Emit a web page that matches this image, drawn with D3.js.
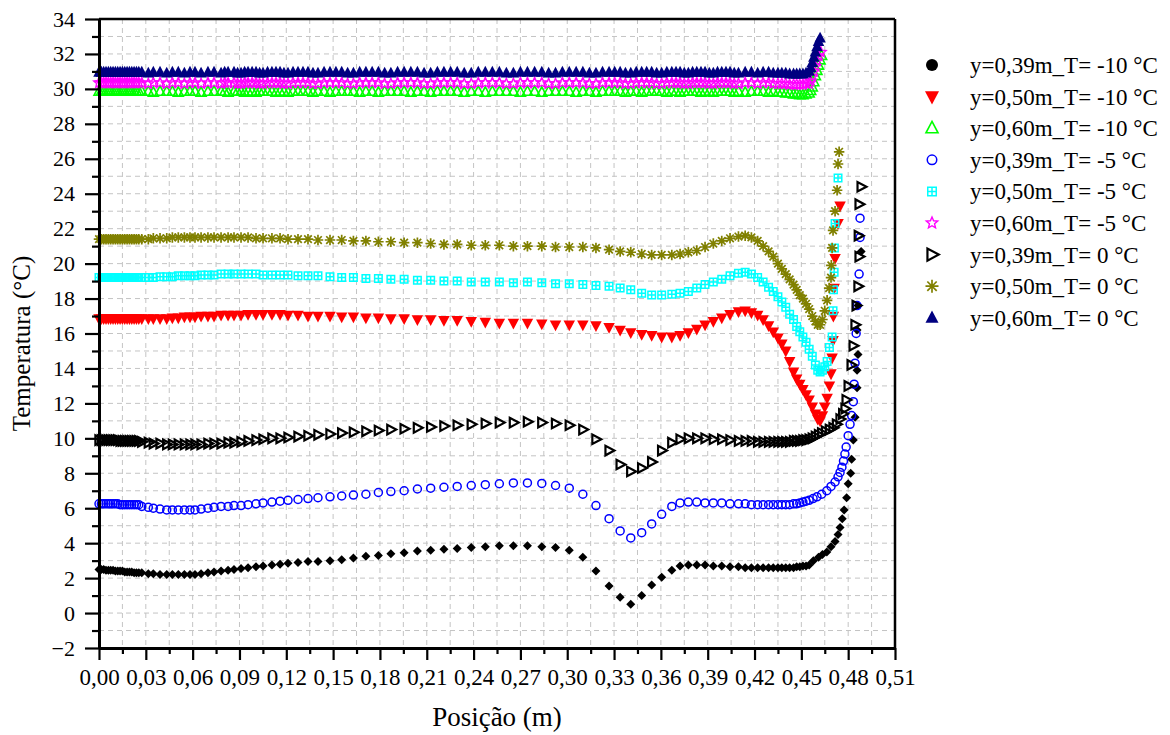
<!DOCTYPE html>
<html>
<head>
<meta charset="utf-8">
<script src="https://cdn.jsdelivr.net/npm/d3@7"></script>
<style>
  html, body { margin: 0; padding: 0; background: #ffffff; }
  svg, svg text { font-family: "Liberation Serif", "Times New Roman", Tinos, "DejaVu Serif", serif !important; }
</style>
</head>
<body>
<script>
// Temperature profiles along the position (m) for three heights y and three outside temperatures T.

// Shared mesh positions (m) for the main part of every profile
const positionM = [
  0, 0.0015, 0.003, 0.0045, 0.006, 0.0075, 0.009, 0.0105, 0.012, 0.0135, 0.015, 0.0165, 0.018, 0.0195, 0.021, 0.0225, 0.024, 0.0255,
  0.0274, 0.0316, 0.0348, 0.0391, 0.0434, 0.047, 0.0508, 0.0547, 0.0583, 0.0615, 0.0654, 0.0698, 0.0737, 0.0782, 0.0827, 0.0865, 0.091, 0.0955, 0.1006, 0.1051, 0.1108, 0.116, 0.1211, 0.1275, 0.1339, 0.1403, 0.148,
  0.1555, 0.163, 0.171, 0.179, 0.187, 0.1955, 0.204, 0.2125, 0.221, 0.2295, 0.2385, 0.2475, 0.2565, 0.2655, 0.2745, 0.2837, 0.2925, 0.3013, 0.31, 0.3184, 0.3268,
  0.3339, 0.3407, 0.3477, 0.3541, 0.3605, 0.367, 0.3723, 0.3776, 0.383, 0.3883, 0.3936, 0.399, 0.4043, 0.4097, 0.414, 0.418, 0.422, 0.4255, 0.429, 0.432, 0.435, 0.4375, 0.44, 0.4425, 0.445, 0.447, 0.449, 0.451, 0.453
];

// Extra positions (m) recorded only for the three y = 0,60 m profiles
const positionTop = [
  0.0805, 0.0888, 0.0933, 0.0981, 0.1029, 0.108, 0.1134, 0.1185, 0.1243, 0.1307, 0.1371, 0.1442, 0.1518,
  0.1593, 0.167, 0.175, 0.183, 0.1913, 0.1998, 0.2083, 0.2168, 0.2253, 0.234, 0.243, 0.252, 0.261, 0.27, 0.2791, 0.2881, 0.2969, 0.3057, 0.3142, 0.3226,
  0.3304, 0.3373, 0.3442, 0.3509, 0.3573, 0.3638, 0.3697, 0.375, 0.3803, 0.3857, 0.391, 0.3963, 0.4017, 0.407
];
const t60m10Top = [29.85, 29.85, 29.8, 29.85, 29.85, 29.85, 29.8, 29.85, 29.85, 29.85, 29.8, 29.85, 29.85, 29.85, 29.8, 29.85, 29.85, 29.85, 29.8, 29.85, 29.85, 29.85, 29.8, 29.85, 29.85, 29.85, 29.8, 29.85, 29.85, 29.85, 29.8, 29.85, 29.85, 29.85, 29.8, 29.85, 29.85, 29.85, 29.8, 29.85, 29.85, 29.85, 29.8, 29.85, 29.85, 29.85, 29.8];
const t60m5Top = [30.35, 30.3, 30.35, 30.35, 30.3, 30.35, 30.35, 30.3, 30.35, 30.35, 30.3, 30.35, 30.35, 30.3, 30.35, 30.35, 30.3, 30.35, 30.35, 30.3, 30.35, 30.35, 30.3, 30.35, 30.35, 30.3, 30.35, 30.35, 30.3, 30.35, 30.35, 30.3, 30.35, 30.35, 30.3, 30.35, 30.35, 30.3, 30.35, 30.35, 30.3, 30.35, 30.35, 30.3, 30.35, 30.35, 30.3];
const t60p0Top = [30.95, 30.9, 30.95, 30.95, 30.9, 30.95, 30.95, 30.9, 30.95, 30.95, 30.9, 30.95, 30.95, 30.9, 30.95, 30.95, 30.9, 30.95, 30.95, 30.9, 30.95, 30.95, 30.9, 30.95, 30.95, 30.9, 30.95, 30.95, 30.9, 30.95, 30.95, 30.9, 30.95, 30.95, 30.9, 30.95, 30.95, 30.9, 30.95, 30.95, 30.9, 30.95, 30.95, 30.9, 30.95, 30.95, 30.9];

// y = 0,39 m, T = -10 °C
const t39m10 = [
  2.5, 2.5, 2.5, 2.45, 2.45, 2.45, 2.45, 2.4, 2.4, 2.4, 2.4, 2.35, 2.35, 2.35, 2.35, 2.3, 2.3, 2.3,
  2.3, 2.25, 2.25, 2.2, 2.2, 2.2, 2.2, 2.2, 2.2, 2.2, 2.25, 2.3, 2.35, 2.4, 2.45, 2.5, 2.55, 2.6, 2.65, 2.7, 2.75, 2.8, 2.85, 2.9, 2.95, 2.95, 3.0,
  3.05, 3.15, 3.25, 3.3, 3.4, 3.45, 3.55, 3.6, 3.65, 3.7, 3.75, 3.8, 3.85, 3.85, 3.85, 3.8, 3.75, 3.6, 3.2, 2.4, 1.55,
  0.9, 0.5, 1.0, 1.6, 2.05, 2.45, 2.7, 2.75, 2.75, 2.75, 2.7, 2.7, 2.65, 2.65, 2.6, 2.6, 2.6, 2.6, 2.6, 2.6, 2.6, 2.6, 2.6, 2.6, 2.6, 2.65, 2.65, 2.7, 2.7
];
const t39m10Wall = [[0.455, 2.75], [0.4577, 3.0], [0.461, 3.2], [0.4635, 3.35], [0.4663, 3.5], [0.469, 3.8], [0.4716, 4.1], [0.4735, 4.5], [0.4748, 4.9], [0.4762, 5.4], [0.4774, 5.9], [0.479, 6.6], [0.48, 7.4], [0.4816, 8.0], [0.4822, 8.8], [0.4833, 9.9], [0.4844, 11.2], [0.4857, 12.9], [0.4857, 13.9], [0.4863, 14.8], [0.4857, 16.2], [0.4863, 17.6], [0.4883, 20.7]];

// y = 0,50 m, T = -10 °C
const t50m10 = [
  16.85, 16.85, 16.85, 16.85, 16.85, 16.85, 16.85, 16.85, 16.85, 16.85, 16.85, 16.85, 16.85, 16.85, 16.85, 16.85, 16.85, 16.85,
  16.85, 16.85, 16.85, 16.85, 16.85, 16.9, 16.9, 16.95, 16.95, 16.95, 17.0, 17.0, 17.0, 17.05, 17.05, 17.05, 17.05, 17.1, 17.1, 17.1, 17.1, 17.1, 17.05, 17.05, 17.0, 17.0, 17.0,
  16.95, 16.95, 16.9, 16.9, 16.85, 16.85, 16.8, 16.8, 16.75, 16.75, 16.7, 16.65, 16.6, 16.6, 16.6, 16.55, 16.5, 16.5, 16.5, 16.45, 16.35,
  16.2, 16.05, 15.95, 15.9, 15.8, 15.8, 15.9, 16.05, 16.25, 16.5, 16.7, 16.9, 17.1, 17.25, 17.3, 17.2, 17.05, 16.8, 16.45, 16.1, 15.75, 15.4, 15.0, 14.4, 13.8, 13.4, 13.1, 12.8, 12.5
];
const t50m10Wall = [[0.455, 12.2], [0.457, 11.8], [0.459, 11.4], [0.4605, 11.1], [0.462, 11.0], [0.4635, 11.3], [0.465, 11.8], [0.4665, 12.3], [0.468, 13.0], [0.469, 13.7], [0.4697, 14.6], [0.4703, 15.6], [0.4705, 17.0], [0.471, 18.6], [0.4716, 20.3], [0.4735, 22.3], [0.4748, 23.3]];

// y = 0,60 m, T = -10 °C
const t60m10 = [
  29.85, 29.85, 29.85, 29.85, 29.85, 29.85, 29.85, 29.85, 29.85, 29.85, 29.85, 29.85, 29.85, 29.85, 29.85, 29.85, 29.85, 29.85,
  29.85, 29.85, 29.8, 29.85, 29.85, 29.85, 29.8, 29.85, 29.85, 29.85, 29.8, 29.85, 29.85, 29.85, 29.8, 29.85, 29.85, 29.85, 29.8, 29.85, 29.85, 29.85, 29.8, 29.85, 29.85, 29.85, 29.8,
  29.85, 29.85, 29.85, 29.8, 29.85, 29.85, 29.85, 29.8, 29.85, 29.85, 29.85, 29.8, 29.85, 29.85, 29.85, 29.8, 29.85, 29.85, 29.85, 29.8, 29.85,
  29.85, 29.85, 29.8, 29.85, 29.85, 29.85, 29.8, 29.85, 29.85, 29.85, 29.8, 29.85, 29.85, 29.85, 29.8, 29.85, 29.85, 29.85, 29.8, 29.85, 29.8, 29.8, 29.75, 29.75, 29.7, 29.7, 29.65, 29.65, 29.7
];
const t60m10Wall = [[0.455, 29.75], [0.456, 29.9], [0.457, 30.1], [0.458, 30.4], [0.459, 30.75], [0.46, 31.05], [0.461, 31.35], [0.462, 31.65], [0.463, 31.9]];

// y = 0,39 m, T = -5 °C
const t39m5 = [
  6.25, 6.25, 6.25, 6.25, 6.25, 6.25, 6.25, 6.25, 6.25, 6.2, 6.2, 6.2, 6.2, 6.2, 6.2, 6.2, 6.2, 6.2,
  6.1, 6.05, 6.0, 5.95, 5.9, 5.9, 5.9, 5.9, 5.9, 5.9, 5.95, 6.0, 6.05, 6.1, 6.1, 6.15, 6.15, 6.2, 6.25, 6.3, 6.35, 6.4, 6.45, 6.5, 6.55, 6.6, 6.65,
  6.7, 6.75, 6.8, 6.9, 6.95, 7.0, 7.1, 7.15, 7.2, 7.25, 7.3, 7.35, 7.4, 7.45, 7.45, 7.42, 7.3, 7.15, 6.8, 6.15, 5.4,
  4.7, 4.3, 4.6, 5.1, 5.65, 6.1, 6.3, 6.35, 6.35, 6.3, 6.3, 6.3, 6.25, 6.25, 6.25, 6.2, 6.2, 6.2, 6.2, 6.2, 6.2, 6.2, 6.2, 6.2, 6.25, 6.25, 6.3, 6.35, 6.4
];
const t39m5Wall = [[0.455, 6.45], [0.4575, 6.55], [0.46, 6.65], [0.463, 6.8], [0.4663, 7.0], [0.469, 7.25], [0.4716, 7.5], [0.4735, 7.8], [0.4748, 8.05], [0.476, 8.35], [0.477, 8.7], [0.4779, 9.1], [0.4787, 9.5], [0.48, 10.15], [0.4812, 10.8], [0.4822, 11.3], [0.4833, 12.1], [0.4838, 13.1], [0.4844, 14.3], [0.4851, 16.0], [0.4857, 17.6], [0.487, 19.4], [0.4876, 21.5], [0.4876, 22.6]];

// y = 0,50 m, T = -5 °C
const t50m5 = [
  19.2, 19.2, 19.2, 19.2, 19.2, 19.2, 19.2, 19.2, 19.2, 19.2, 19.2, 19.2, 19.2, 19.2, 19.2, 19.2, 19.2, 19.2,
  19.2, 19.2, 19.2, 19.25, 19.25, 19.25, 19.3, 19.3, 19.3, 19.3, 19.35, 19.35, 19.35, 19.4, 19.4, 19.4, 19.4, 19.4, 19.4, 19.35, 19.35, 19.35, 19.35, 19.3, 19.3, 19.3, 19.25,
  19.2, 19.2, 19.15, 19.15, 19.1, 19.1, 19.05, 19.05, 19.0, 19.0, 18.95, 18.95, 18.95, 18.9, 18.95, 18.9, 18.85, 18.85, 18.8, 18.75, 18.7,
  18.6, 18.5, 18.3, 18.2, 18.2, 18.25, 18.3, 18.4, 18.6, 18.8, 18.95, 19.1, 19.3, 19.45, 19.5, 19.4, 19.2, 18.95, 18.65, 18.4, 18.1, 17.8, 17.5, 17.1, 16.8, 16.4, 16.1, 15.8, 15.5
];
const t50m5Wall = [[0.455, 15.1], [0.457, 14.7], [0.459, 14.2], [0.4605, 13.9], [0.462, 13.8], [0.4635, 13.9], [0.465, 14.1], [0.4665, 14.4], [0.468, 15.2], [0.4697, 15.8], [0.4703, 17.3], [0.4706, 18.5], [0.471, 19.5], [0.4712, 20.9], [0.4716, 22.3], [0.4735, 24.9]];

// y = 0,60 m, T = -5 °C
const t60m5 = [
  30.35, 30.35, 30.35, 30.35, 30.35, 30.35, 30.35, 30.35, 30.35, 30.35, 30.35, 30.35, 30.35, 30.35, 30.35, 30.35, 30.35, 30.35,
  30.35, 30.3, 30.35, 30.35, 30.3, 30.35, 30.35, 30.3, 30.35, 30.35, 30.3, 30.35, 30.35, 30.3, 30.35, 30.35, 30.3, 30.35, 30.35, 30.3, 30.35, 30.35, 30.3, 30.35, 30.35, 30.3, 30.35,
  30.35, 30.3, 30.35, 30.35, 30.3, 30.35, 30.35, 30.3, 30.35, 30.35, 30.3, 30.35, 30.35, 30.3, 30.35, 30.35, 30.3, 30.35, 30.35, 30.3, 30.35,
  30.35, 30.3, 30.35, 30.35, 30.3, 30.35, 30.35, 30.3, 30.35, 30.35, 30.3, 30.35, 30.35, 30.3, 30.35, 30.35, 30.3, 30.35, 30.35, 30.3, 30.3, 30.3, 30.3, 30.25, 30.25, 30.25, 30.25, 30.25, 30.3
];
const t60m5Wall = [[0.455, 30.3], [0.456, 30.45], [0.457, 30.7], [0.458, 31.0], [0.459, 31.3], [0.46, 31.6], [0.461, 31.9], [0.4625, 32.1]];

// y = 0,39 m, T = 0 °C
const t39p0 = [
  9.9, 9.9, 9.9, 9.9, 9.9, 9.9, 9.9, 9.9, 9.9, 9.85, 9.85, 9.85, 9.85, 9.85, 9.85, 9.85, 9.85, 9.85,
  9.8, 9.75, 9.7, 9.7, 9.65, 9.65, 9.65, 9.65, 9.65, 9.65, 9.65, 9.7, 9.7, 9.7, 9.75, 9.75, 9.8, 9.85, 9.9, 9.95, 10.0, 10.0, 10.05, 10.1, 10.15, 10.2, 10.25,
  10.3, 10.35, 10.4, 10.45, 10.5, 10.55, 10.6, 10.65, 10.7, 10.75, 10.8, 10.85, 10.9, 10.9, 10.95, 10.9, 10.85, 10.75, 10.5, 9.95, 9.3,
  8.5, 8.1, 8.3, 8.65, 9.3, 9.75, 9.95, 10.0, 10.0, 10.0, 9.95, 9.95, 9.9, 9.85, 9.85, 9.85, 9.8, 9.8, 9.8, 9.8, 9.8, 9.8, 9.8, 9.8, 9.85, 9.85, 9.85, 9.9, 9.9
];
const t39p0Wall = [[0.455, 9.95], [0.457, 10.0], [0.459, 10.1], [0.461, 10.2], [0.463, 10.3], [0.4655, 10.4], [0.468, 10.5], [0.4703, 10.6], [0.4725, 10.8], [0.4748, 11.1], [0.4765, 11.4], [0.478, 11.7], [0.4787, 12.2], [0.48, 13.0], [0.4819, 14.2], [0.4832, 15.3], [0.4844, 16.5], [0.4851, 17.6], [0.4863, 18.7], [0.487, 20.4], [0.4865, 21.6], [0.487, 23.4], [0.4883, 24.4]];

// y = 0,50 m, T = 0 °C
const t50p0 = [
  21.4, 21.4, 21.4, 21.4, 21.4, 21.4, 21.4, 21.4, 21.4, 21.4, 21.4, 21.4, 21.4, 21.4, 21.4, 21.4, 21.4, 21.4,
  21.4, 21.4, 21.45, 21.45, 21.45, 21.5, 21.5, 21.5, 21.5, 21.5, 21.5, 21.5, 21.5, 21.5, 21.5, 21.5, 21.5, 21.5, 21.45, 21.45, 21.45, 21.45, 21.4, 21.4, 21.4, 21.35, 21.35,
  21.35, 21.3, 21.3, 21.25, 21.25, 21.2, 21.2, 21.15, 21.1, 21.1, 21.05, 21.05, 21.05, 21.0, 21.0, 21.0, 20.95, 20.95, 20.95, 20.9, 20.8,
  20.7, 20.65, 20.55, 20.5, 20.5, 20.5, 20.55, 20.65, 20.75, 20.95, 21.15, 21.3, 21.45, 21.55, 21.6, 21.5, 21.3, 21.0, 20.7, 20.4, 20.0, 19.7, 19.4, 19.1, 18.8, 18.5, 18.2, 18.0, 17.7
];
const t50p0Wall = [[0.455, 17.4], [0.457, 17.0], [0.459, 16.7], [0.4605, 16.5], [0.462, 16.5], [0.4635, 16.8], [0.465, 17.3], [0.4665, 17.9], [0.4678, 18.6], [0.469, 19.2], [0.4692, 19.9], [0.4697, 20.9], [0.4703, 21.9], [0.4716, 23.0], [0.4729, 24.2], [0.4735, 25.7], [0.4742, 26.4]];

// y = 0,60 m, T = 0 °C
const t60p0 = [
  30.95, 30.95, 30.95, 30.95, 30.95, 30.95, 30.95, 30.95, 30.95, 30.95, 30.95, 30.95, 30.95, 30.95, 30.95, 30.95, 30.95, 30.95,
  30.95, 30.9, 30.95, 30.95, 30.9, 30.95, 30.95, 30.9, 30.95, 30.95, 30.9, 30.95, 30.95, 30.9, 30.95, 30.95, 30.9, 30.95, 30.95, 30.9, 30.95, 30.95, 30.9, 30.95, 30.95, 30.9, 30.95,
  30.95, 30.9, 30.95, 30.95, 30.9, 30.95, 30.95, 30.9, 30.95, 30.95, 30.9, 30.95, 30.95, 30.9, 30.95, 30.95, 30.9, 30.95, 30.95, 30.9, 30.95,
  30.95, 30.9, 30.95, 30.95, 30.9, 30.95, 30.95, 30.9, 30.95, 30.95, 30.9, 30.95, 30.95, 30.9, 30.95, 30.95, 30.9, 30.95, 30.95, 30.9, 30.9, 30.9, 30.9, 30.85, 30.85, 30.85, 30.85, 30.85, 30.9
];
const t60p0Wall = [[0.455, 31.0], [0.456, 31.2], [0.457, 31.5], [0.458, 31.8], [0.459, 32.1], [0.46, 32.4], [0.461, 32.7], [0.462, 32.9]];

// Legend labels, in drawing order
const seriesLabels = [
  "y=0,39m_T= -10 °C", "y=0,50m_T= -10 °C", "y=0,60m_T= -10 °C",
  "y=0,39m_T= -5 °C", "y=0,50m_T= -5 °C", "y=0,60m_T= -5 °C",
  "y=0,39m_T= 0 °C", "y=0,50m_T= 0 °C", "y=0,60m_T= 0 °C"
];
const seriesMain = [t39m10, t50m10, t60m10, t39m5, t50m5, t60m5, t39p0, t50p0, t60p0];
const seriesExtra = [null, null, t60m10Top, null, null, t60m5Top, null, null, t60p0Top];
const seriesWall = [t39m10Wall, t50m10Wall, t60m10Wall, t39m5Wall, t50m5Wall, t60m5Wall, t39p0Wall, t50p0Wall, t60p0Wall];

// Axis ticks
const xTicks = [0, 0.03, 0.06, 0.09, 0.12, 0.15, 0.18, 0.21, 0.24, 0.27, 0.30, 0.33, 0.36, 0.39, 0.42, 0.45, 0.48, 0.51];
const yTicks = [-2, 0, 2, 4, 6, 8, 10, 12, 14, 16, 18, 20, 22, 24, 26, 28, 30, 32, 34];

// Marker styles per series
const styles = [
  { plot: "dot",      legend: "circle",   fill: "#000000", stroke: "none",    size: 9,    lsize: 12 },
  { plot: "triDown",  legend: "triDown",  fill: "#ff0000", stroke: "none",    size: 11.5, lsize: 14 },
  { plot: "triUp",    legend: "triUp",    fill: "none",    stroke: "#00ff00", size: 10,   lsize: 12, sw: 1.6 },
  { plot: "circle",   legend: "circle",   fill: "none",    stroke: "#0000ff", size: 8,    lsize: 9.5, sw: 1.5 },
  { plot: "square",   legend: "square",   fill: "none",    stroke: "#00ffff", size: 7.5,  lsize: 8.5, sw: 1.5 },
  { plot: "star",     legend: "star",     fill: "none",    stroke: "#ff00ff", size: 11,   lsize: 12, sw: 1.4 },
  { plot: "triRight", legend: "triRight", fill: "none",    stroke: "#000000", size: 9.5,  lsize: 12, sw: 2.2 },
  { plot: "asterisk", legend: "asterisk", fill: "none",    stroke: "#808000", size: 10.5, lsize: 13, sw: 1.7 },
  { plot: "triUp",    legend: "triUp",    fill: "#000080", stroke: "none",    size: 11.5, lsize: 13 }
];

function markerPath(kind, s) {
  const h = s / 2;
  switch (kind) {
    case "dot":
      return `M0,${-h}L${h},0L0,${h}L${-h},0Z`;
    case "circle": {
      const p = d3.path();
      p.moveTo(h, 0);
      p.arc(0, 0, h, 0, 2 * Math.PI);
      p.closePath();
      return p.toString();
    }
    case "triUp":
      return `M0,${-0.56 * s}L${h},${0.38 * s}L${-h},${0.38 * s}Z`;
    case "triDown":
      return `M0,${0.56 * s}L${h},${-0.38 * s}L${-h},${-0.38 * s}Z`;
    case "triRight":
      return `M${0.56 * s},0L${-0.38 * s},${h}L${-0.38 * s},${-h}Z`;
    case "square":
      return `M${-h},${-h}H${h}V${h}H${-h}Z M0,${-h}V${h} M${-h},0H${h}`;
    case "star": {
      const p = d3.path();
      const r2 = h * 0.45;
      for (let k = 0; k < 10; k++) {
        const r = k % 2 === 0 ? h : r2;
        const a = -Math.PI / 2 + k * Math.PI / 5;
        if (k === 0) p.moveTo(r * Math.cos(a), r * Math.sin(a));
        else p.lineTo(r * Math.cos(a), r * Math.sin(a));
      }
      p.closePath();
      return p.toString();
    }
    case "asterisk": {
      const a = h * 0.72;
      return `M0,${-h}V${h} M${-h},0H${h} M${-a},${-a}L${a},${a} M${-a},${a}L${a},${-a}`;
    }
  }
  return "";
}

const W = 1170, H = 735;
const svg = d3.select("body").append("svg").attr("width", W).attr("height", H);

const x = d3.scaleLinear().domain([0, 0.51]).range([99, 895]);
const y = d3.scaleLinear().domain([-2, 34]).range([648, 19]);

// minor positions halfway between major ticks
const xMinor = xTicks.slice(1).map((v, i) => (v + xTicks[i]) / 2);
const yMinor = yTicks.slice(1).map((v, i) => (v + yTicks[i]) / 2);

// dashed grid at every major and minor position
const grid = svg.append("g").attr("stroke", "#c4c4c4").attr("stroke-width", 1).attr("stroke-dasharray", "5,4");
const xGridVals = xTicks.concat(xMinor).filter(v => v > 0 && v < 0.51);
const yGridVals = yTicks.concat(yMinor).filter(v => v > -2 && v < 34);
grid.selectAll("line.gx").data(xGridVals).join("line").attr("class", "gx")
  .attr("x1", d => x(d)).attr("x2", d => x(d)).attr("y1", y(34)).attr("y2", y(-2));
grid.selectAll("line.gy").data(yGridVals).join("line").attr("class", "gy")
  .attr("x1", x(0)).attr("x2", x(0.51)).attr("y1", d => y(d)).attr("y2", d => y(d));

// data markers
const plot = svg.append("g");
seriesMain.forEach((vals, si) => {
  let pts = positionM.map((p, i) => [p, vals[i]]);
  if (seriesExtra[si]) pts = pts.concat(positionTop.map((p, i) => [p, seriesExtra[si][i]]));
  pts = pts.filter(d => d[1] != null).concat(seriesWall[si]);
  const st = styles[si];
  const dPath = markerPath(st.plot, st.size);
  plot.append("g")
    .attr("fill", st.fill).attr("stroke", st.stroke).attr("stroke-width", st.sw || 0)
    .selectAll("path").data(pts).join("path")
    .attr("d", dPath)
    .attr("transform", d => `translate(${x(d[0])},${y(d[1])})`);
});

// axes
const fmtX = v => d3.format(".2f")(v).replace(".", ",");
const gx = svg.append("g").attr("transform", `translate(0,${y(-2)})`)
  .call(d3.axisBottom(x).tickValues(xTicks).tickFormat(fmtX).tickSize(12).tickSizeOuter(0).tickPadding(9));
const gxm = svg.append("g").attr("transform", `translate(0,${y(-2)})`)
  .call(d3.axisBottom(x).tickValues(xMinor).tickFormat("").tickSize(6).tickSizeOuter(0));
const gy = svg.append("g").attr("transform", `translate(${x(0)},0)`)
  .call(d3.axisLeft(y).tickValues(yTicks).tickFormat(d3.format("d")).tickSize(14).tickSizeOuter(0).tickPadding(10));
const gym = svg.append("g").attr("transform", `translate(${x(0)},0)`)
  .call(d3.axisLeft(y).tickValues(yMinor).tickFormat("").tickSize(7).tickSizeOuter(0));

[gx, gxm, gy, gym].forEach(g => {
  g.attr("font-family", null);
  g.select(".domain").attr("stroke", "#000").attr("stroke-width", 3);
  g.selectAll(".tick line").attr("stroke", "#000").attr("stroke-width", 2.2);
  g.selectAll(".tick text").attr("fill", "#000");
});
gx.attr("font-size", 23);
gy.attr("font-size", 22);

// frame on top and right
svg.append("line").attr("x1", x(0)).attr("x2", x(0.51)).attr("y1", y(34)).attr("y2", y(34))
  .attr("stroke", "#000").attr("stroke-width", 2.5);
svg.append("line").attr("x1", x(0.51)).attr("x2", x(0.51)).attr("y1", y(34)).attr("y2", y(-2))
  .attr("stroke", "#000").attr("stroke-width", 2.5);

// axis titles
svg.append("text").attr("x", (x(0) + x(0.51)) / 2).attr("y", 726).attr("text-anchor", "middle")
  .attr("font-size", 27).attr("fill", "#000").text("Posição (m)");
svg.append("text").attr("transform", `translate(30,${(y(34) + y(-2)) / 2 + 10}) rotate(-90)`)
  .attr("text-anchor", "middle").attr("font-size", 25).attr("fill", "#000")
  .text("Temperatura (°C)");

// legend
const legend = svg.append("g").attr("transform", "translate(932,65)");
seriesLabels.forEach((label, i) => {
  const st = styles[i];
  const row = legend.append("g").attr("transform", `translate(0,${i * 31.6})`);
  row.append("path").attr("d", markerPath(st.legend, st.lsize))
    .attr("fill", st.fill).attr("stroke", st.stroke).attr("stroke-width", st.sw || 0);
  row.append("text").attr("x", 38).attr("y", 8).attr("font-size", 23)
    .attr("fill", "#000").text(label);
});
</script>
</body>
</html>
